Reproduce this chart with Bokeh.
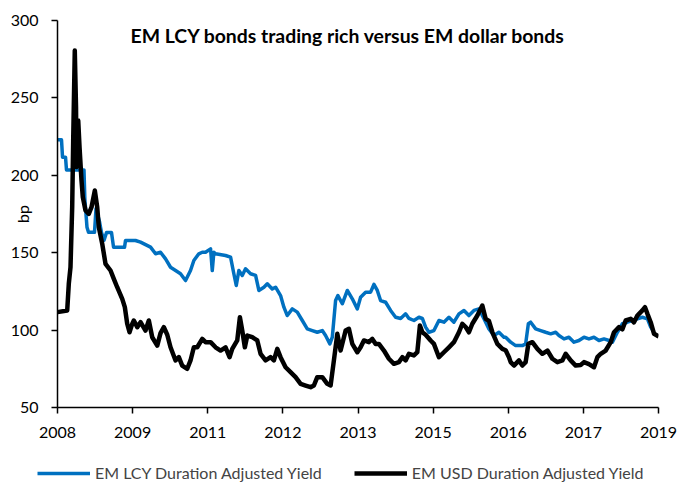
from bokeh.plotting import figure
from bokeh.layouts import column
from bokeh.models import FixedTicker, Label, Legend, LegendItem, ColumnDataSource, Range1d
from bokeh.embed import file_html
from bokeh.resources import INLINE

# ---- data (time in decimal years, values in bp) ----
lcy_t = [2008.490, 2008.561, 2008.579, 2008.632, 2008.649, 2008.959, 2008.974, 2009.012, 2009.039,
         2009.145, 2009.172, 2009.234, 2009.269, 2009.314, 2009.358, 2009.446, 2009.482, 2009.677,
         2009.694, 2009.871, 2009.960, 2010.137, 2010.226, 2010.314, 2010.403, 2010.491, 2010.580,
         2010.668, 2010.757, 2010.845, 2010.904, 2010.992, 2011.053, 2011.111, 2011.200, 2011.230,
         2011.258, 2011.288, 2011.465, 2011.554, 2011.612, 2011.655, 2011.701, 2011.761, 2011.819,
         2011.908, 2011.997, 2012.055, 2012.144, 2012.204, 2012.292, 2012.351, 2012.439, 2012.498,
         2012.558, 2012.647, 2012.735, 2012.824, 2012.912, 2013.001, 2013.089, 2013.178, 2013.236,
         2013.312, 2013.355, 2013.413, 2013.454, 2013.532, 2013.621, 2013.709, 2013.798, 2013.856,
         2013.945, 2014.033, 2014.092, 2014.152, 2014.210, 2014.299, 2014.387, 2014.476, 2014.565,
         2014.653, 2014.712, 2014.800, 2014.889, 2014.949, 2015.007, 2015.066, 2015.154, 2015.243,
         2015.331, 2015.420, 2015.508, 2015.597, 2015.686, 2015.774, 2015.863, 2015.951, 2016.040,
         2016.128, 2016.217, 2016.305, 2016.394, 2016.424, 2016.513, 2016.601, 2016.720, 2016.778,
         2016.826, 2016.867, 2016.955, 2017.044, 2017.132, 2017.221, 2017.310, 2017.368, 2017.457,
         2017.545, 2017.634, 2017.722, 2017.811, 2017.899, 2017.988, 2018.076, 2018.165, 2018.254,
         2018.314, 2018.402, 2018.491, 2018.579, 2018.668, 2018.756, 2018.845, 2018.934, 2018.992,
         2019.051]
lcy_v = [222.9, 222.9, 211.7, 211.7, 203.5, 203.5, 184.8, 166.5, 163.2,
         163.2, 178.5, 170.0, 163.0, 158.0, 163.0, 163.0, 153.6, 153.6,
         157.9, 157.9, 156.8, 153.6, 149.3, 150.3, 146.0, 140.6, 138.5,
         136.4, 132.0, 138.5, 145.0, 149.3, 150.3, 150.3, 152.5, 138.5,
         150.3, 149.3, 148.2, 147.1, 136.4, 128.8, 138.5, 135.3, 139.6,
         136.4, 135.3, 125.6, 127.7, 129.9, 126.6, 127.7, 122.3, 114.8,
         109.4, 113.7, 111.6, 106.2, 100.8, 99.7, 98.6, 99.7, 96.5,
         91.1, 95.4, 119.1, 122.3, 117.0, 125.6, 120.2, 113.7, 121.2,
         124.5, 124.5, 129.5, 125.6, 119.1, 118.0, 112.7, 108.3, 107.5,
         110.5, 107.5, 106.2, 108.3, 107.5, 101.9, 98.6, 99.7, 106.2,
         105.1, 108.3, 105.1, 110.5, 112.7, 109.4, 112.7, 113.7, 107.3,
         100.8, 96.5, 98.6, 95.4, 95.4, 92.2, 90.0, 90.0, 91.1,
         104.1, 105.1, 100.8, 99.7, 98.6, 97.6, 98.6, 96.5, 94.3,
         95.4, 92.2, 93.3, 95.4, 94.3, 95.4, 93.3, 94.3, 93.3,
         92.2, 98.6, 104.1, 105.1, 106.2, 107.3, 108.3, 107.3, 101.9,
         98.6, 96.5]

usd_t = [2008.490, 2008.662, 2008.690, 2008.720, 2008.750, 2008.768, 2008.796, 2008.818, 2008.826,
         2008.857, 2008.880, 2008.915, 2008.938, 2008.986, 2009.044, 2009.092, 2009.151, 2009.193,
         2009.221, 2009.282, 2009.340, 2009.429, 2009.487, 2009.547, 2009.636, 2009.682, 2009.724,
         2009.765, 2009.813, 2009.841, 2009.902, 2009.960, 2010.048, 2010.107, 2010.167, 2010.256,
         2010.314, 2010.373, 2010.433, 2010.491, 2010.580, 2010.638, 2010.698, 2010.787, 2010.845,
         2010.904, 2010.964, 2011.053, 2011.111, 2011.200, 2011.288, 2011.377, 2011.465, 2011.536,
         2011.584, 2011.672, 2011.719, 2011.761, 2011.807, 2011.850, 2011.938, 2012.027, 2012.085,
         2012.174, 2012.262, 2012.321, 2012.381, 2012.439, 2012.528, 2012.616, 2012.705, 2012.794,
         2012.882, 2012.971, 2013.029, 2013.089, 2013.178, 2013.266, 2013.325, 2013.383, 2013.444,
         2013.502, 2013.591, 2013.649, 2013.709, 2013.798, 2013.856, 2013.915, 2014.003, 2014.063,
         2014.122, 2014.180, 2014.269, 2014.357, 2014.446, 2014.534, 2014.595, 2014.653, 2014.712,
         2014.800, 2014.860, 2014.906, 2014.949, 2015.007, 2015.096, 2015.154, 2015.243, 2015.331,
         2015.420, 2015.508, 2015.597, 2015.657, 2015.716, 2015.774, 2015.834, 2015.923, 2016.011,
         2016.070, 2016.128, 2016.189, 2016.277, 2016.366, 2016.424, 2016.483, 2016.513, 2016.571,
         2016.660, 2016.720, 2016.778, 2016.826, 2016.897, 2016.986, 2017.074, 2017.163, 2017.251,
         2017.340, 2017.428, 2017.487, 2017.575, 2017.664, 2017.752, 2017.811, 2017.899, 2017.988,
         2018.048, 2018.107, 2018.195, 2018.284, 2018.342, 2018.431, 2018.491, 2018.549, 2018.638,
         2018.696, 2018.756, 2018.845, 2018.891, 2018.934, 2018.992, 2019.051, 2019.134]
usd_v = [111.6, 112.7, 129.9, 140.6, 179.4, 222.5, 280.6, 244.0, 205.3,
         235.4, 218.2, 196.6, 185.9, 177.3, 175.1, 179.4, 190.2, 179.4,
         166.5, 155.7, 142.8, 138.5, 133.1, 127.7, 120.2, 114.8, 104.1,
         98.6, 104.0, 106.2, 101.9, 105.1, 99.7, 106.2, 95.4, 90.0,
         98.0, 101.9, 97.0, 88.9, 80.4, 82.5, 77.1, 75.0, 80.4,
         88.9, 88.9, 94.3, 92.2, 92.2, 88.9, 86.8, 88.9, 82.5,
         87.9, 93.3, 108.3, 99.7, 88.9, 96.5, 95.4, 93.3, 84.7,
         80.4, 82.5, 80.4, 87.9, 82.5, 76.0, 72.8, 69.6, 65.3,
         64.2, 63.1, 64.2, 69.6, 69.6, 65.3, 64.2, 80.4, 97.6,
         86.8, 99.7, 100.8, 91.1, 85.7, 88.9, 93.3, 92.2, 94.3,
         91.1, 91.1, 86.8, 81.5, 78.2, 79.3, 82.5, 80.4, 84.7,
         83.6, 85.7, 103.0, 98.6, 97.0, 93.3, 91.1, 82.5, 85.7,
         88.9, 92.2, 98.6, 104.1, 102.0, 98.6, 104.1, 109.4, 115.9,
         107.3, 106.0, 98.6, 91.1, 87.9, 87.0, 82.5, 79.3, 77.1,
         80.4, 77.1, 79.3, 91.1, 92.2, 87.9, 84.7, 86.8, 81.5,
         79.3, 80.4, 84.7, 80.4, 77.1, 77.5, 79.3, 78.0, 76.0,
         82.5, 84.7, 86.8, 92.2, 98.6, 101.9, 100.5, 106.2, 107.3,
         105.0, 109.4, 112.7, 114.8, 110.5, 105.1, 97.6, 95.9]

tick_labels = ["2008", "2009", "2011", "2012", "2013", "2015", "2016", "2017", "2019"]
axis_start = 2008.49
tick_step = 1.33
y_ticks = [50, 100, 150, 200, 250, 300]

series_names = ["EM LCY Duration Adjusted Yield", "EM USD Duration Adjusted Yield"]
series_colors = ["#0070C0", "#000000"]
title_text = "EM LCY bonds trading rich versus EM dollar bonds"

FONT = "Lato"

x_ticks = [round(axis_start + k * tick_step, 4) for k in range(len(tick_labels))]

p = figure(width=678, height=448, output_backend="svg", toolbar_location=None,
           x_range=Range1d(x_ticks[0], x_ticks[-1]), y_range=Range1d(50, 300),
           min_border_left=57, min_border_right=20, min_border_top=20, min_border_bottom=41)
p.outline_line_color = None
p.xgrid.visible = False
p.ygrid.visible = False

src_l = ColumnDataSource(dict(t=lcy_t, v=lcy_v))
src_u = ColumnDataSource(dict(t=usd_t, v=usd_v))
p.line("t", "v", source=src_l, line_color=series_colors[0], line_width=3.5, line_join="round")
p.line("t", "v", source=src_u, line_color=series_colors[1], line_width=4.5, line_join="round")

p.xaxis.ticker = FixedTicker(ticks=x_ticks)
p.xaxis.major_label_overrides = {t: lab for t, lab in zip(x_ticks, tick_labels)}
p.yaxis.ticker = FixedTicker(ticks=y_ticks)
for ax in (p.xaxis[0], p.yaxis[0]):
    ax.axis_line_color = "#000000"
    ax.axis_line_width = 1.5
    ax.major_tick_line_color = "#000000"
    ax.major_tick_line_width = 1.5
    ax.major_tick_in = 0
    ax.major_tick_out = 6
    ax.minor_tick_line_color = None
    ax.major_label_text_font = FONT
    ax.major_label_text_font_size = "16px"
    ax.major_label_text_color = "#000000"
p.yaxis.major_label_standoff = 13
p.xaxis.major_label_standoff = 13
p.yaxis.axis_label = "bp"
p.yaxis.axis_label_text_font = FONT
p.yaxis.axis_label_text_font_size = "16px"
p.yaxis.axis_label_text_font_style = "normal"
p.yaxis.axis_label_text_color = "#000000"
p.yaxis.axis_label_standoff = -24

title = Label(x=(x_ticks[0] + x_ticks[-1]) / 2 - 0.177, y=290.5, text=title_text,
              text_font=FONT, text_font_size="19.4px", text_font_style="bold",
              text_align="center", text_baseline="middle", text_color="#000000")
p.add_layout(title)

# ---- legend strip below the chart ----
lf = figure(width=678, height=34, output_backend="svg", toolbar_location=None,
            x_axis_type=None, y_axis_type=None,
            x_range=Range1d(0, 1), y_range=Range1d(0, 1),
            min_border_left=0, min_border_right=0, min_border_top=0, min_border_bottom=0)
lf.frame_align = False
lf.outline_line_color = None
lf.xgrid.visible = False
lf.ygrid.visible = False
lr1 = lf.line("t", "v", source=src_l, line_color=series_colors[0], line_width=3.5)
lr2 = lf.line("t", "v", source=src_u, line_color=series_colors[1], line_width=4.5)
legend = Legend(items=[LegendItem(label=series_names[0], renderers=[lr1]),
                       LegendItem(label=series_names[1], renderers=[lr2])],
                orientation="horizontal", location=(37, 0),
                label_text_font=FONT, label_text_font_size="16px",
                glyph_width=53, glyph_height=18, label_height=18, label_standoff=5,
                spacing=32, padding=0, margin=0,
                border_line_color=None, background_fill_alpha=0)
lf.add_layout(legend, "center")

layout = column(p, lf, spacing=0)
open("out.html", "w").write(file_html(layout, INLINE))
